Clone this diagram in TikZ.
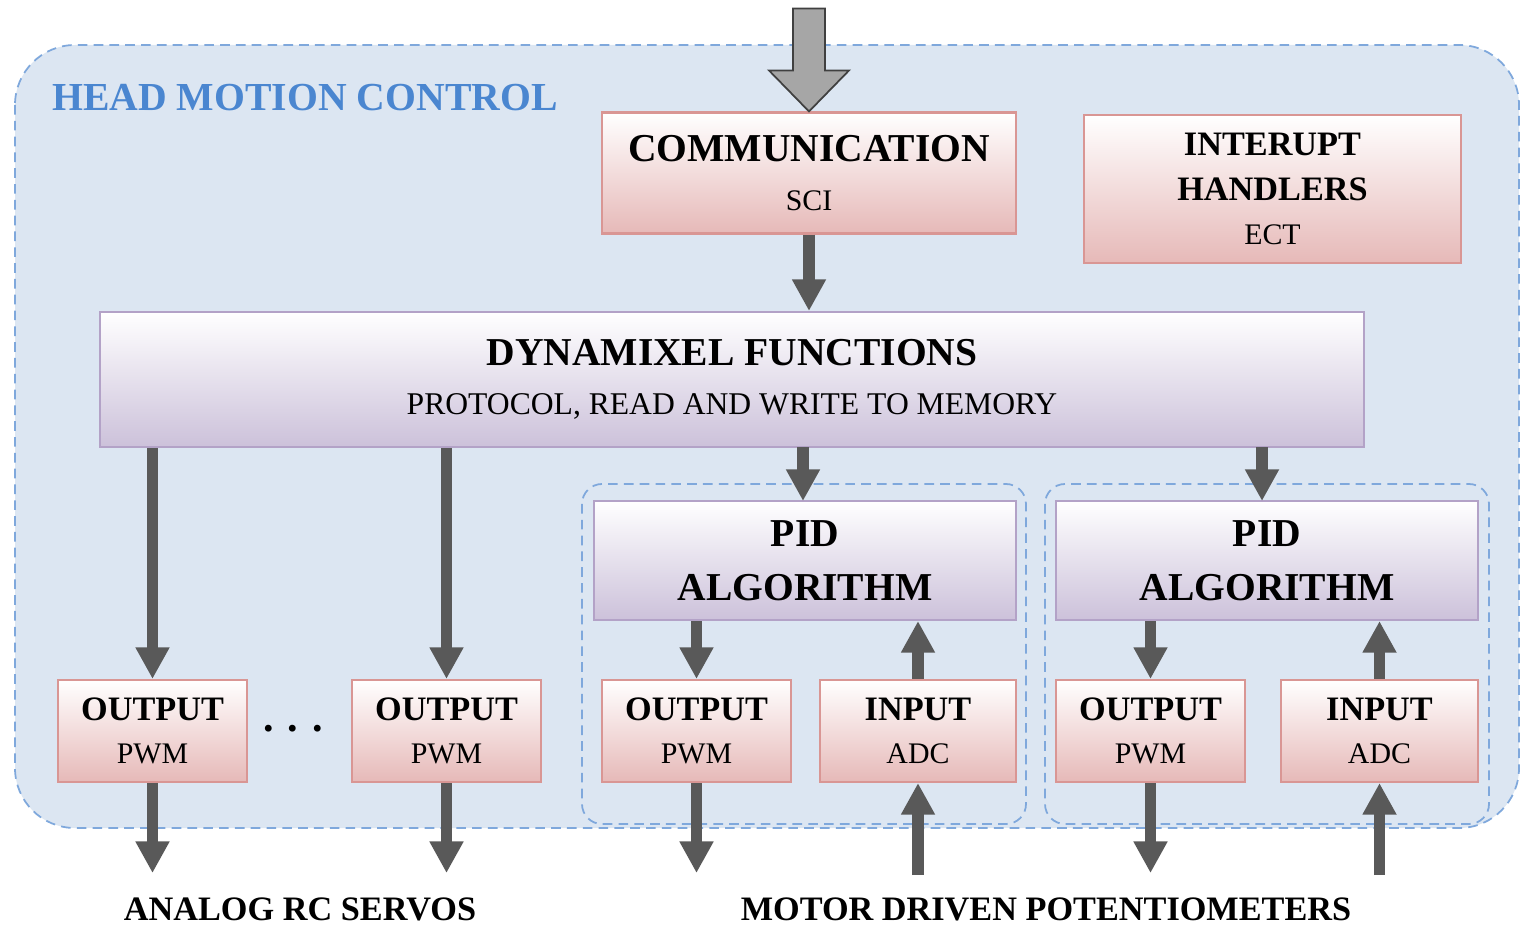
\documentclass[tikz,border=0pt]{standalone}
\usepackage{fontspec}
\setmainfont{Liberation Serif}
\usetikzlibrary{arrows.meta}

\definecolor{panelblue}{HTML}{DCE6F2}
\definecolor{dashblue}{HTML}{7FA8DC}
\definecolor{titleblue}{HTML}{4A86D0}
\definecolor{pinkfill}{HTML}{E6B9B8}
\definecolor{pinkedge}{HTML}{D99694}
\definecolor{lilacfill}{HTML}{CCC1DA}
\definecolor{lilacedge}{HTML}{B3A2C7}
\definecolor{flowgrey}{HTML}{595959}
\definecolor{feedgrey}{HTML}{A6A6A6}

\newcommand{\bighead}{\fontsize{22.5}{27}\selectfont\bfseries}
\newcommand{\smallhead}{\fontsize{19.5}{24}\selectfont\bfseries}

\begin{document}
\begin{tikzpicture}[x=0.02cm,y=-0.02cm,
	pinkbox/.style={draw=pinkedge, line width=1.2pt, top color=white, bottom color=pinkfill, align=center, inner sep=0pt},
	lilacbox/.style={draw=lilacedge, line width=1.2pt, top color=white, bottom color=lilacfill, align=center, inner sep=0pt},
	iobox/.style={pinkbox, minimum height=2.04cm},
	flow/.style={draw=flowgrey, line width=6.3pt, -{Triangle[width=18.2pt,length=18pt]}},
	bigarrow/.style={fill=feedgrey, draw=black!75, line width=1pt, line join=miter},
	group/.style={draw=dashblue, line width=1pt, dash pattern=on 5.5pt off 3.5pt}]
		\useasboundingbox (0,0) rectangle (1521,929);
		% panel and groups
		\filldraw[group, fill=panelblue, rounded corners=1.2cm] (15,45) rectangle (1519,828);
		\draw[group, rounded corners=0.4cm] (582,484) rectangle (1026,824);
		\draw[group, rounded corners=0.4cm] (1045,484) rectangle (1489,824);
		\node[anchor=west, inner sep=0pt, text=titleblue, font=\fontsize{22.6}{27}\selectfont\bfseries] (title) at (52,98) {HEAD MOTION CONTROL};

		% blocks
		\node[pinkbox, minimum width=8.28cm, minimum height=2.42cm, font=\fontsize{17}{27.5}\selectfont] (comm) at (809,173) {{\bighead COMMUNICATION}\\ SCI};
		\node[pinkbox, minimum width=7.54cm, minimum height=2.96cm, font=\fontsize{17}{25.5}\selectfont] (irq) at (1272.5,189) {{\smallhead INTERUPT}\\ {\smallhead HANDLERS}\\ ECT};
		\node[lilacbox, minimum width=25.28cm, minimum height=2.7cm, font=\fontsize{18}{28}\selectfont] (dyn) at (732,379.5) {{\bighead DYNAMIXEL FUNCTIONS}\\ PROTOCOL, READ AND WRITE TO MEMORY};
		\node[lilacbox, minimum width=8.44cm, minimum height=2.38cm, font=\fontsize{22.5}{31}\selectfont\bfseries] (pidA) at (805,560.5) {PID\\ ALGORITHM};
		\node[lilacbox, minimum width=8.44cm, minimum height=2.38cm, font=\fontsize{22.5}{31}\selectfont\bfseries] (pidB) at (1267,560.5) {PID\\ ALGORITHM};

		\node[iobox, minimum width=3.78cm, font=\fontsize{17}{24.5}\selectfont] (outA) at (152.5,731) {{\smallhead OUTPUT}\\ PWM};
		\node[iobox, minimum width=3.78cm, font=\fontsize{17}{24.5}\selectfont] (outB) at (446.5,731) {{\smallhead OUTPUT}\\ PWM};
		\node[iobox, minimum width=3.78cm, font=\fontsize{17}{24.5}\selectfont] (outC) at (696.5,731) {{\smallhead OUTPUT}\\ PWM};
		\node[iobox, minimum width=3.92cm, font=\fontsize{17}{24.5}\selectfont] (inC) at (918,731) {{\smallhead INPUT}\\ ADC};
		\node[iobox, minimum width=3.78cm, font=\fontsize{17}{24.5}\selectfont] (outD) at (1150.5,731) {{\smallhead OUTPUT}\\ PWM};
		\node[iobox, minimum width=3.94cm, font=\fontsize{17}{24.5}\selectfont] (inD) at (1379.5,731) {{\smallhead INPUT}\\ ADC};
		\node[font=\fontsize{24}{24}\selectfont\bfseries] (dots) at (293,729) {.\,\,.\,\,.};

		% arrows
		\draw[bigarrow] (comm.north) -- ++(-40,-41) -- ++(24,0) -- ++(0,-62) -- ++(32,0) -- ++(0,62) -- ++(24,0) -- cycle;
		\draw[flow] (comm.south) -- (comm.south |- dyn.north);
		\draw[flow] (outA |- dyn.south) -- (outA.north);
		\draw[flow] (outB |- dyn.south) -- (outB.north);
		\draw[flow] (803,447) -- (803,501);
		\draw[flow] (1262,447) -- (1262,501);
		\draw[flow] (outC |- pidA.south) -- (outC.north);
		\draw[flow] (inC.north) -- (inC |- pidA.south);
		\draw[flow] (outD |- pidB.south) -- (outD.north);
		\draw[flow] (inD.north) -- (inD |- pidB.south);
		\draw[flow] (outA.south) -- ++(0,90);
		\draw[flow] (outB.south) -- ++(0,90);
		\draw[flow] (outC.south) -- ++(0,90);
		\draw[flow] (outD.south) -- ++(0,90);
		\draw[flow] (inC.south) ++(0,92) -- (inC.south);
		\draw[flow] (inD.south) ++(0,92) -- (inD.south);

		% loads
		\node[anchor=base, inner sep=0pt, font=\fontsize{19.5}{24}\selectfont\bfseries] (servos) at (300,920) {ANALOG RC SERVOS};
		\node[anchor=base, inner sep=0pt, font=\fontsize{19.5}{24}\selectfont\bfseries] (pots) at (1046,920) {MOTOR DRIVEN POTENTIOMETERS};
\end{tikzpicture}
\end{document}
